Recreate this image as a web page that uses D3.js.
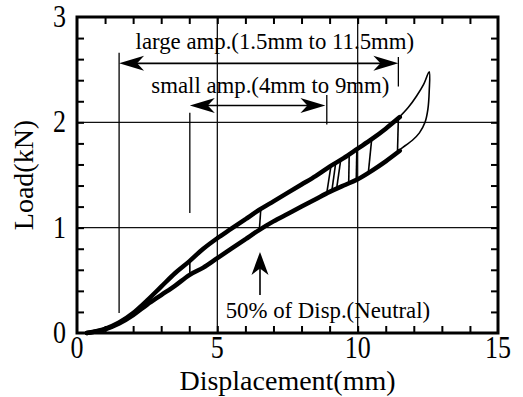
<!DOCTYPE html>
<html>
<head>
<meta charset="utf-8">
<script src="https://cdn.jsdelivr.net/npm/d3@7"></script>
<style>
  body { margin: 0; background: #fff; }
</style>
</head>
<body>
<svg id="chart" width="523" height="397" font-family="'Liberation Serif', 'Times New Roman', serif"></svg>
<script>
// axis ticks
const xLabels = [0, 5, 10, 15]
const yLabels = [0, 1, 2, 3]
const xGrid = [5, 10]
const yGrid = [1, 2]
const xMinor = d3.range(1, 15)
const yMinor = d3.range(0.2, 3, 0.2)

// large amplitude loop (thick), displacement in mm, load in kN
const dispSteps = [0.35, 1.0, 1.5, 2.0, 2.5, 3.0, 3.5, 4.0, 4.5, 5.0, 5.5, 6.0,
  6.5, 7.0, 7.5, 8.0, 8.5, 9.0, 9.5, 10.0, 10.5, 11.0, 11.5]
const loadingLoad = [0, 0.04, 0.10, 0.19, 0.31, 0.44, 0.57, 0.68, 0.80, 0.90, 0.99, 1.08,
  1.17, 1.25, 1.33, 1.41, 1.49, 1.58, 1.66, 1.75, 1.84, 1.94, 2.05]
const unloadingLoad = [0, 0.035, 0.09, 0.17, 0.27, 0.36, 0.45, 0.55, 0.62, 0.71, 0.80, 0.89,
  0.98, 1.06, 1.13, 1.20, 1.27, 1.34, 1.40, 1.46, 1.54, 1.63, 1.73]

// outer thin loop up to 12.5mm
const outerDisp = [11.45, 11.8, 12.1, 12.35, 12.55, 12.55, 12.5, 12.4, 12.2, 11.95, 11.7, 11.45]
const outerLoad = [2.04, 2.14, 2.25, 2.36, 2.48, 2.3, 2.12, 2.0, 1.9, 1.83, 1.78, 1.73]

// turning segments between the branches: [xTop, yTop, xBottom, yBottom]
const turnSegments = [
  [2.55, 0.31, 2.42, 0.26],
  [4.02, 0.68, 4.02, 0.55],
  [6.55, 1.18, 6.5, 0.99],
  [9.05, 1.59, 8.9, 1.33],
  [9.22, 1.62, 9.08, 1.35],
  [9.4, 1.65, 9.25, 1.37],
  [9.7, 1.71, 9.68, 1.42],
  [9.97, 1.75, 9.95, 1.46],
  [10.5, 1.84, 10.38, 1.52],
  [11.45, 2.04, 11.42, 1.73]
]

// annotation markers: [x, yFrom, yTo]
const markerLines = [
  [1.5, 2.66, 0.19],
  [11.45, 2.62, 2.34],
  [4.02, 2.09, 1.14],
  [8.9, 2.26, 1.98]
]
// double arrows: [xFrom, xTo, y]
const ampArrows = [
  [1.5, 11.45, 2.56],
  [4.02, 8.85, 2.16]
]
const neutralArrow = [6.52, 0.36, 0.77]
// labels: [text, xCenter, yBaseline]
const notes = [
  ['large amp.(1.5mm to 11.5mm)', 7.05, 2.70],
  ['small amp.(4mm to 9mm)', 6.89, 2.28],
  ['50% of Disp.(Neutral)', 8.94, 0.14]
]

const svg = d3.select('#chart')
const x = d3.scaleLinear().domain([0, 15]).range([77, 498])
const y = d3.scaleLinear().domain([0, 3]).range([333, 17])

// grid
svg.append('g').selectAll('line').data(xGrid).join('line')
  .attr('x1', d => x(d)).attr('x2', d => x(d))
  .attr('y1', y(0)).attr('y2', y(3))
  .attr('stroke', '#111').attr('stroke-width', 1.3)
svg.append('g').selectAll('line').data(yGrid).join('line')
  .attr('x1', x(0)).attr('x2', x(15))
  .attr('y1', d => y(d)).attr('y2', d => y(d))
  .attr('stroke', '#111').attr('stroke-width', 1.3)

// inward minor ticks on all four sides
function minorAxis (axis, values, transform) {
  const g = svg.append('g')
    .attr('transform', transform)
    .call(axis.tickValues(values).tickSize(-7).tickSizeOuter(0).tickFormat(''))
  g.select('.domain').remove()
  g.selectAll('.tick line').attr('stroke', '#000').attr('stroke-width', 2)
}
minorAxis(d3.axisBottom(x), xMinor, `translate(0,${y(0)})`)
minorAxis(d3.axisTop(x), xMinor, `translate(0,${y(3)})`)
minorAxis(d3.axisLeft(y), yMinor, `translate(${x(0)},0)`)
minorAxis(d3.axisRight(y), yMinor, `translate(${x(15)},0)`)

// tick labels
svg.append('g').selectAll('text').data(xLabels).join('text')
  .attr('transform', d => `translate(${x(d)},358) scale(1,1.18)`)
  .attr('text-anchor', 'middle')
  .attr('font-size', 26)
  .text(d => d)
svg.append('g').selectAll('text').data(yLabels).join('text')
  .attr('transform', d => `translate(66,${y(d) + 10}) scale(1,1.18)`)
  .attr('text-anchor', 'end')
  .attr('font-size', 26)
  .text(d => d)

// axis titles
svg.append('text')
  .attr('x', (x(0) + x(15)) / 2).attr('y', 390)
  .attr('text-anchor', 'middle')
  .attr('font-size', 28)
  .text('Displacement(mm)')
svg.append('text')
  .attr('transform', `translate(33,${(y(0) + y(3)) / 2}) rotate(-90)`)
  .attr('text-anchor', 'middle')
  .attr('font-size', 28)
  .text('Load(kN)')

// curves
const thickLine = d3.line().x(d => x(d[0])).y(d => y(d[1])).curve(d3.curveMonotoneX)
const loading = dispSteps.map((d, i) => [d, loadingLoad[i]])
const unloading = dispSteps.map((d, i) => [d, unloadingLoad[i]])
svg.append('g').selectAll('path').data([loading, unloading]).join('path')
  .attr('d', thickLine)
  .attr('fill', 'none')
  .attr('stroke', '#000')
  .attr('stroke-width', 4.5)
  .attr('stroke-linecap', 'round')

const thinLine = d3.line().x(d => x(d[0])).y(d => y(d[1])).curve(d3.curveCatmullRom)
svg.append('path')
  .datum(outerDisp.map((d, i) => [d, outerLoad[i]]))
  .attr('d', thinLine)
  .attr('fill', 'none')
  .attr('stroke', '#000')
  .attr('stroke-width', 1.6)

svg.append('g').selectAll('line').data(turnSegments).join('line')
  .attr('x1', d => x(d[0])).attr('y1', d => y(d[1]))
  .attr('x2', d => x(d[2])).attr('y2', d => y(d[3]))
  .attr('stroke', '#000').attr('stroke-width', 1.6)

// annotations
svg.append('g').selectAll('line').data(markerLines).join('line')
  .attr('x1', d => x(d[0])).attr('x2', d => x(d[0]))
  .attr('y1', d => y(d[1])).attr('y2', d => y(d[2]))
  .attr('stroke', '#000').attr('stroke-width', 1.3)

function arrowHead (len, half) {
  // pointing to +x, tip at origin
  return `M0,0 L${-len},${-half} L${-len * 0.72},0 L${-len},${half} Z`
}

const arrows = svg.append('g')
ampArrows.forEach(([x0, x1, v]) => {
  arrows.append('line')
    .attr('x1', x(x0) + 12).attr('x2', x(x1) - 12)
    .attr('y1', y(v)).attr('y2', y(v))
    .attr('stroke', '#000').attr('stroke-width', 1.6)
  arrows.append('path')
    .attr('d', arrowHead(25, 7.5))
    .attr('transform', `translate(${x(x0)},${y(v)}) rotate(180)`)
  arrows.append('path')
    .attr('d', arrowHead(25, 7.5))
    .attr('transform', `translate(${x(x1)},${y(v)})`)
})
arrows.append('line')
  .attr('x1', x(neutralArrow[0])).attr('x2', x(neutralArrow[0]))
  .attr('y1', y(neutralArrow[1])).attr('y2', y(neutralArrow[2]) + 12)
  .attr('stroke', '#000').attr('stroke-width', 1.6)
arrows.append('path')
  .attr('d', arrowHead(23, 8.5))
  .attr('transform', `translate(${x(neutralArrow[0])},${y(neutralArrow[2])}) rotate(-90)`)

svg.append('g').selectAll('text').data(notes).join('text')
  .attr('x', d => x(d[1])).attr('y', d => y(d[2]))
  .attr('text-anchor', 'middle')
  .attr('font-size', 22.8)
  .text(d => d[0])

// frame
svg.append('rect')
  .attr('x', x(0)).attr('y', y(3))
  .attr('width', x(15) - x(0)).attr('height', y(0) - y(3))
  .attr('fill', 'none')
  .attr('stroke', '#000')
  .attr('stroke-width', 3)
</script>
</body>
</html>
